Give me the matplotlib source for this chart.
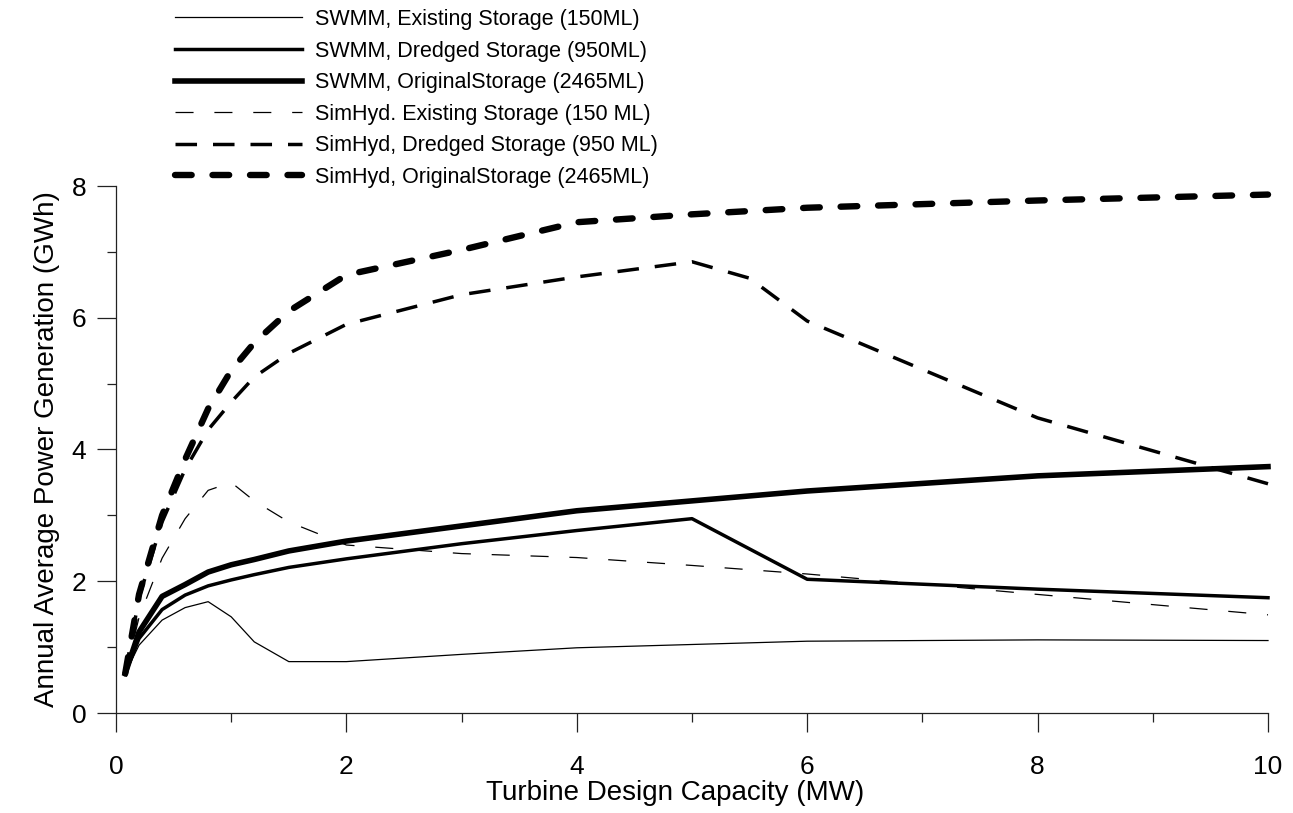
import matplotlib
matplotlib.use("Agg")
import matplotlib.pyplot as plt
from matplotlib.ticker import MultipleLocator

plt.rcParams['font.family'] = ['Liberation Sans', 'DejaVu Sans']
plt.rcParams['lines.scale_dashes'] = False

# turbine design capacity (MW)
capacity = [0.08, 0.2, 0.4, 0.6, 0.8, 1.0, 1.2, 1.5, 2, 3, 4, 5, 6, 8, 10]
capacity_dredged_simhyd = [0.08, 0.2, 0.4, 0.6, 0.8, 1.0, 1.2, 1.5, 2, 3, 4, 5, 5.5, 6, 8, 10]

# annual average power generation (GWh)
swmm_existing = [0.6, 1.03, 1.41, 1.6, 1.69, 1.46, 1.08, 0.78, 0.78, 0.89, 0.99, 1.04, 1.09, 1.11, 1.10]
swmm_dredged = [0.6, 1.13, 1.57, 1.79, 1.93, 2.02, 2.10, 2.21, 2.34, 2.57, 2.77, 2.95, 2.03, 1.88, 1.75]
swmm_original = [0.6, 1.23, 1.77, 1.95, 2.14, 2.25, 2.33, 2.46, 2.61, 2.84, 3.07, 3.22, 3.37, 3.60, 3.74]
simhyd_existing = [0.6, 1.45, 2.35, 2.95, 3.38, 3.5, 3.22, 2.9, 2.55, 2.42, 2.36, 2.24, 2.11, 1.80, 1.49]
simhyd_dredged = [0.6, 1.75, 2.9, 3.7, 4.3, 4.72, 5.1, 5.46, 5.9, 6.35, 6.62, 6.85, 6.6, 5.95, 4.48, 3.48]
simhyd_original = [0.6, 1.8, 3.0, 3.85, 4.62, 5.2, 5.62, 6.1, 6.65, 7.03, 7.45, 7.57, 7.67, 7.78, 7.87]

labels = ["SWMM, Existing Storage (150ML)",
          "SWMM, Dredged Storage (950ML)",
          "SWMM, OriginalStorage (2465ML)",
          "SimHyd. Existing Storage (150 ML)",
          "SimHyd, Dredged Storage (950 ML)",
          "SimHyd, OriginalStorage (2465ML)"]


def draw_lines(ax):
    ax.plot(capacity, swmm_existing, color='black', lw=0.9, label=labels[0], clip_on=False)
    ax.plot(capacity, swmm_dredged, color='black', lw=2.5, label=labels[1], clip_on=False)
    ax.plot(capacity, swmm_original, color='black', lw=4.0, label=labels[2], clip_on=False)
    ax.plot(capacity, simhyd_existing, color='black', lw=0.9, dashes=(13, 15),
            label=labels[3], clip_on=False)
    ax.plot(capacity_dredged_simhyd, simhyd_dredged, color='black', lw=2.5,
            dashes=(15.5, 11.5), label=labels[4], clip_on=False)
    ax.plot(capacity, simhyd_original, color='black', lw=4.6, dashes=(12, 15),
            dash_capstyle='round', label=labels[5], clip_on=False)


def style_axes(ax):
    ax.set_xlim(0, 10)
    ax.set_ylim(0, 8)
    ax.xaxis.set_major_locator(MultipleLocator(2))
    ax.xaxis.set_minor_locator(MultipleLocator(1))
    ax.yaxis.set_major_locator(MultipleLocator(2))
    ax.yaxis.set_minor_locator(MultipleLocator(1))
    for side in ('top', 'right'):
        ax.spines[side].set_visible(False)
    for side in ('left', 'bottom'):
        ax.spines[side].set_color('#222222')
        ax.spines[side].set_linewidth(0.9)
    ax.tick_params(which='major', direction='out', length=13.5, width=0.9,
                   color='#222222', labelsize=19)
    ax.tick_params(which='minor', direction='out', length=6.5, width=0.9, color='#222222')
    ax.tick_params(axis='x', which='major', pad=17)
    ax.tick_params(axis='y', which='major', pad=8)
    ax.set_xlabel("Turbine Design Capacity (MW)", fontsize=20, labelpad=0)
    ax.xaxis.set_label_coords(0.485, -0.128)
    ax.set_ylabel("Annual Average Power Generation (GWh)", fontsize=20, labelpad=8)


def main():
    fig = plt.figure(figsize=(12.93, 8.13), dpi=100)
    ax = fig.add_axes([116 / 1293, 1 - 713 / 813, 1152 / 1293, 527 / 813])
    draw_lines(ax)
    style_axes(ax)
    fig.legend(loc='upper left', bbox_to_anchor=(175 / 1293, 1 - 9 / 813),
               frameon=False, fontsize=15.5, handlelength=5.9, handletextpad=0.6,
               labelspacing=0.49, borderpad=0, borderaxespad=0)
    fig.savefig("out.png", dpi=100)


if __name__ == "__main__":
    main()
